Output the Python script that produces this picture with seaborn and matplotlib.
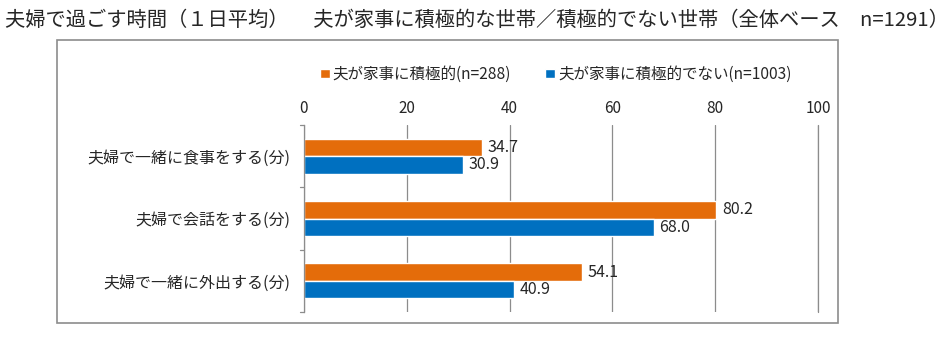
import matplotlib
matplotlib.use("Agg")
import matplotlib.pyplot as plt
import seaborn as sns
import pandas as pd
from matplotlib.patches import Rectangle

categories = ["夫婦で一緒に食事をする(分)", "夫婦で会話をする(分)", "夫婦で一緒に外出する(分)"]
series_names = ["夫が家事に積極的(n=288)", "夫が家事に積極的でない(n=1003)"]
active_values = [34.7, 80.2, 54.1]
inactive_values = [30.9, 68.0, 40.9]
x_ticks = [0, 20, 40, 60, 80, 100]
title = "夫婦で過ごす時間（１日平均）　 夫が家事に積極的な世帯／積極的でない世帯（全体ベース　n=1291）"
colors = ["#E46C0A", "#0070C0"]

sns.set_theme(style="white")
plt.rcParams['font.family'] = ['Noto Sans CJK JP', 'DejaVu Sans']

df = pd.DataFrame({
    "category": categories * 2,
    "series": [series_names[0]] * 3 + [series_names[1]] * 3,
    "value": active_values + inactive_values,
})

fig = plt.figure(figsize=(9.51, 3.40), dpi=100)
ax = fig.add_axes([304/951, 1-312/340, (818-304)/951, (312-125)/340])

sns.barplot(data=df, y="category", x="value", hue="series", orient="h",
            palette=colors, width=0.56, ax=ax, saturation=1, gap=0)

ax.set_xlim(0, 100)
ax.set_xticks(x_ticks)
ax.xaxis.tick_top()
ax.tick_params(axis='x', length=0, labelsize=11, pad=6)
ax.tick_params(axis='y', length=0, labelsize=11.5, pad=10)
ax.set_xlabel("")
ax.set_ylabel("")
ax.grid(axis='x', color="#8C8C8C", linewidth=0.9)
ax.axvline(100, color="#8C8C8C", linewidth=0.9, clip_on=False, zorder=0)
ax.set_axisbelow(True)
for s in ["right", "bottom", "top"]:
    ax.spines[s].set_visible(False)
ax.spines["left"].set_color("#8C8C8C")
ax.spines["left"].set_linewidth(0.9)
ax.set_ylim(2.5, -0.5)
for yb in [-0.5, 0.5, 1.5, 2.5]:
    ax.plot([-0.8, 0], [yb, yb], color="#8C8C8C", lw=0.9, clip_on=False)

for cont in ax.containers:
    ax.bar_label(cont, fmt="%.1f", padding=4, fontsize=11.5)

leg = ax.legend(loc="lower center", bbox_to_anchor=(0.49, 1.15), ncol=2, frameon=False,
                fontsize=11.2, handlelength=0.6, handleheight=0.6, handletextpad=0.2,
                columnspacing=2.2)

fig.patches.append(Rectangle((57/951, 1-323/340), (838-57)/951, (323-40)/340,
                             transform=fig.transFigure, fill=False,
                             edgecolor="#8C8C8C", linewidth=1.2))
fig.text(5/951, 1-20/340, title, fontsize=14.6, va="center", ha="left")

fig.savefig("out.png", dpi=100)
